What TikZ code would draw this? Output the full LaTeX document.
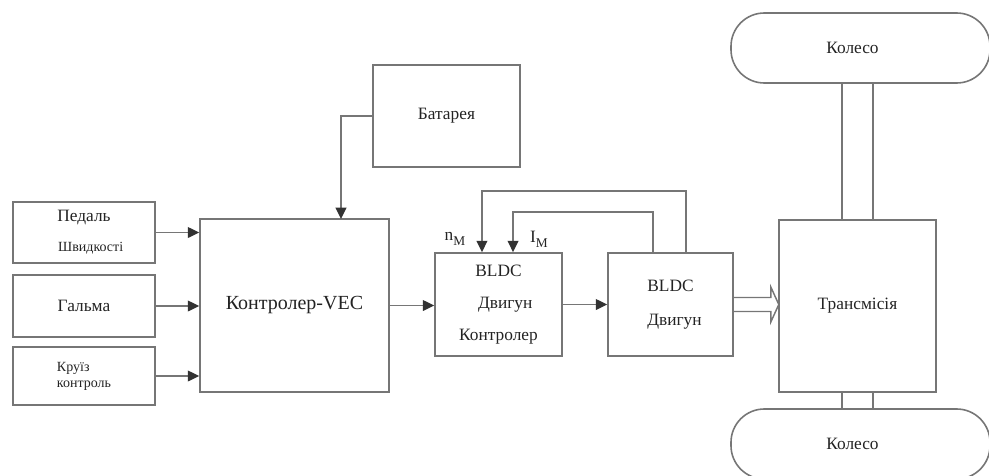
\documentclass[tikz,border=0pt]{standalone}
\usepackage{fontspec}
\setmainfont{Liberation Serif}
\usetikzlibrary{arrows.meta}

\definecolor{lineclr}{RGB}{118,118,118}
\definecolor{tipclr}{RGB}{50,50,50}
\definecolor{txtclr}{RGB}{35,35,35}

\tikzset{every picture/.style={line width=0.75pt}}
\tikzset{
  blk/.style={draw=lineclr, line width=1.2pt, inner sep=0pt, text=txtclr, align=center},
  wheel/.style={blk, rounded corners=25pt, minimum width=194.25pt, minimum height=52.5pt},
  conn/.style={draw=lineclr, line width=1.2pt},
  sig/.style={conn, -{Triangle[length=8.5pt,width=8pt,fill=tipclr,color=tipclr]}},
  hollow/.style={draw=lineclr, line width=1.1pt, line join=miter},
  lbl/.style={inner sep=0pt, text=txtclr}
}

\begin{document}
\begin{tikzpicture}[x=0.75pt,y=0.75pt,yscale=-1,xscale=1]
\clip (0,0) rectangle (989,475);

%Shape: Rectangle -- inputs
\node [blk, minimum width=106.5pt, minimum height=45.75pt, font=\fontsize{13}{22.5}\selectfont] (ped) at (84,232.5) {Педаль\\{\fontsize{10.5}{22.5}\selectfont\hspace{10pt}Швидкості}};
\node [blk, minimum width=106.5pt, minimum height=46.5pt, font=\fontsize{13}{15}\selectfont] (gal) at (84,306) {Гальма};
\node [blk, minimum width=106.5pt, minimum height=43.5pt, align=left, font=\fontsize{10.5}{12}\selectfont] (kru) at (84,376) {Круїз\\контроль};

%Shape: Rectangle -- controller, battery
\node [blk, minimum width=141.75pt, minimum height=129.75pt, font=\fontsize{15}{18}\selectfont] (vec) at (294.5,305.5) {Контролер-VEC};
\node [blk, minimum width=110.25pt, minimum height=76.5pt, font=\fontsize{13}{15}\selectfont] (bat) at (446.5,116) {Батарея};

%Shape: Rectangle -- motor part
\node [blk, minimum width=95.25pt, minimum height=77.25pt, font=\fontsize{13}{24}\selectfont] (ctl) at (498.5,304.5) {BLDC\\\hspace{10pt}Двигун\\Контролер};
\node [blk, minimum width=93.75pt, minimum height=77.25pt, font=\fontsize{13}{25.5}\selectfont] (mot) at (670.5,304.5) {BLDC\\\hspace{6pt}Двигун};

%Shape: Rectangle -- transmission and wheels
\node [blk, minimum width=117.75pt, minimum height=129pt, font=\fontsize{13}{15}\selectfont] (tr) at (857.5,306) {Трансмісія};
\node [wheel, font=\fontsize{13}{15}\selectfont] (whtop) at (860.5,48) {\hspace*{-12pt}Колесо};
\node [wheel, font=\fontsize{13}{15}\selectfont] (whbot) at (860.5,444) {\hspace*{-12pt}Колесо};

% Text Node
\node [lbl, font=\fontsize{13}{15}\selectfont] (nlab) at (455,239) {n\raisebox{-4pt}{\fontsize{10}{10}\selectfont M}};
% Text Node
\node [lbl, font=\fontsize{13}{15}\selectfont] (ilab) at (539,239) {I\raisebox{-4pt}{\fontsize{10}{10}\selectfont M}};

\coordinate (batin) at (341,219);

%Straight Lines
\draw [sig] (ped.east) -- (ped.east -| vec.west);
\draw [sig] (gal.east) -- (gal.east -| vec.west);
\draw [sig] (kru.east) -- (kru.east -| vec.west);
\draw [sig] (bat.west) -| (batin);
\draw [sig] (vec.east) -- (vec.east -| ctl.west);
\draw [sig] (ctl.east) -- (mot.west);

%Straight Lines -- feedback
\draw [sig] ([xshift=11.6pt]mot.north) -- ++(0,-61) -| ([xshift=-12.4pt]ctl.north);
\draw [sig] ([xshift=-13.1pt]mot.north) -- ++(0,-40) -| ([xshift=10.9pt]ctl.north);

%Shape: Arrow
\draw [hollow] (mot.east) ++(0,-7) -- ++(37,0) -- ++(0,-10.5) -- ++(8,17.5) -- ++(-8,17.5) -- ++(0,-10.5) -- ++(-37,0);

%Straight Lines -- shafts
\draw [conn] ([xshift=-11.6pt]tr.north) -- ([xshift=-11.6pt]tr.north |- whtop.south);
\draw [conn] ([xshift=11.6pt]tr.north) -- ([xshift=11.6pt]tr.north |- whtop.south);
\draw [conn] ([xshift=-11.6pt]tr.south) -- ([xshift=-11.6pt]tr.south |- whbot.north);
\draw [conn] ([xshift=11.6pt]tr.south) -- ([xshift=11.6pt]tr.south |- whbot.north);

\end{tikzpicture}
\end{document}
